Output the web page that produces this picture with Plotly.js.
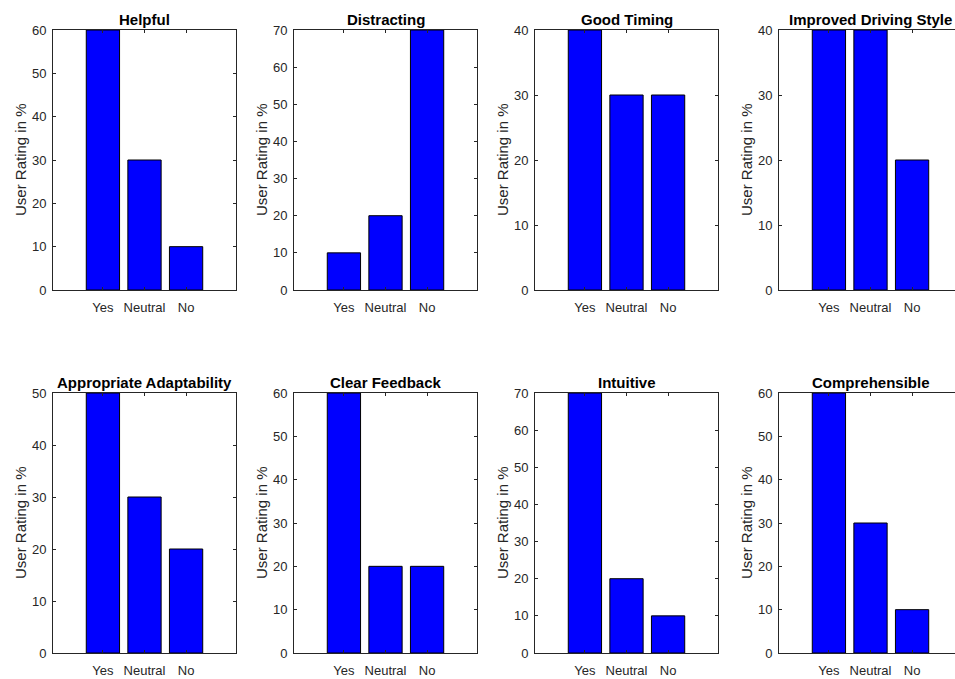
<!DOCTYPE html>
<html>
<head>
<meta charset="utf-8">
<script src="https://cdn.plot.ly/plotly-3.0.1.min.js"></script>
<style>
html, body { margin: 0; padding: 0; overflow: hidden; background: #fff; }
#chart { width: 965px; height: 679px; }
</style>
</head>
<body>
<div id="chart"></div>
<script>
// ---- data ----
const categories = ['Yes', 'Neutral', 'No'];
const categoryPos = [1, 2, 3];
const panelTitles = ['Helpful', 'Distracting', 'Good Timing', 'Improved Driving Style',
                     'Appropriate Adaptability', 'Clear Feedback', 'Intuitive', 'Comprehensible'];
const helpful = [60, 30, 10];
const distracting = [10, 20, 70];
const goodTiming = [40, 30, 30];
const improvedDrivingStyle = [40, 40, 20];
const appropriateAdaptability = [50, 30, 20];
const clearFeedback = [60, 20, 20];
const intuitive = [70, 20, 10];
const comprehensible = [60, 30, 10];
const yLimits = [60, 70, 40, 40, 50, 60, 70, 60];
const yLabel = 'User Rating in %';

const series = [helpful, distracting, goodTiming, improvedDrivingStyle,
                appropriateAdaptability, clearFeedback, intuitive, comprehensible];

// ---- layout geometry (pixels) ----
const W = 965, H = 679;
const colLeft = [53, 294, 535, 779];
const axW = 183;
const rowTop = [30, 393];
const axH = 260;

const font = 'Liberation Sans, Arial, Helvetica, sans-serif';
const axisColor = '#262626';

const traces = [];
const layout = {
  width: W, height: H,
  margin: {l: 0, r: 0, t: 0, b: 0},
  paper_bgcolor: '#ffffff',
  plot_bgcolor: '#ffffff',
  showlegend: false,
  bargap: 0.2,
  font: {family: font, color: axisColor, size: 13},
  annotations: []
};

for (let i = 0; i < 8; i++) {
  const r = Math.floor(i / 4), c = i % 4;
  const n = i + 1;
  const xa = n === 1 ? 'x' : 'x' + n;
  const ya = n === 1 ? 'y' : 'y' + n;
  const xKey = n === 1 ? 'xaxis' : 'xaxis' + n;
  const yKey = n === 1 ? 'yaxis' : 'yaxis' + n;
  const l = colLeft[c], t = rowTop[r];
  const x0 = l / W, x1 = (l + axW) / W;
  const y1 = 1 - t / H, y0 = 1 - (t + axH) / H;

  traces.push({
    type: 'bar',
    x: categoryPos,
    y: series[i],
    xaxis: xa, yaxis: ya,
    marker: {color: '#0000FF', line: {color: '#000000', width: 1}},
    hoverinfo: 'skip'
  });

  layout[xKey] = {
    domain: [x0, x1],
    anchor: ya,
    range: [-0.2, 4.2],
    tickvals: categoryPos,
    ticktext: categories,
    ticks: 'inside', ticklen: 3, tickcolor: axisColor,
    ticklabelstandoff: 5,
    showline: true, linecolor: axisColor, linewidth: 1, mirror: 'ticks',
    showgrid: false, zeroline: false, fixedrange: true,
    tickfont: {family: font, size: 13, color: axisColor}
  };
  layout[yKey] = {
    domain: [y0, y1],
    anchor: xa,
    range: [0, yLimits[i]],
    dtick: 10, tick0: 0,
    ticks: 'inside', ticklen: 3, tickcolor: axisColor,
    ticklabelstandoff: 3,
    showline: true, linecolor: axisColor, linewidth: 1, mirror: 'ticks',
    showgrid: false, zeroline: false, fixedrange: true,
    tickfont: {family: font, size: 13, color: axisColor}
  };

  layout.annotations.push({
    text: '<b>' + panelTitles[i] + '</b>',
    xref: 'paper', yref: 'paper',
    x: (x0 + x1) / 2, y: y1,
    xanchor: 'center', yanchor: 'bottom', yshift: 0,
    showarrow: false,
    font: {family: font, size: 15, color: '#000000'}
  });
  layout.annotations.push({
    text: yLabel,
    xref: 'paper', yref: 'paper',
    x: (l - 33) / W, y: (y0 + y1) / 2,
    xanchor: 'center', yanchor: 'middle',
    textangle: -90,
    showarrow: false,
    font: {family: font, size: 15, color: axisColor}
  });
}

Plotly.newPlot('chart', traces, layout, {displayModeBar: false, staticPlot: true});
</script>
</body>
</html>
